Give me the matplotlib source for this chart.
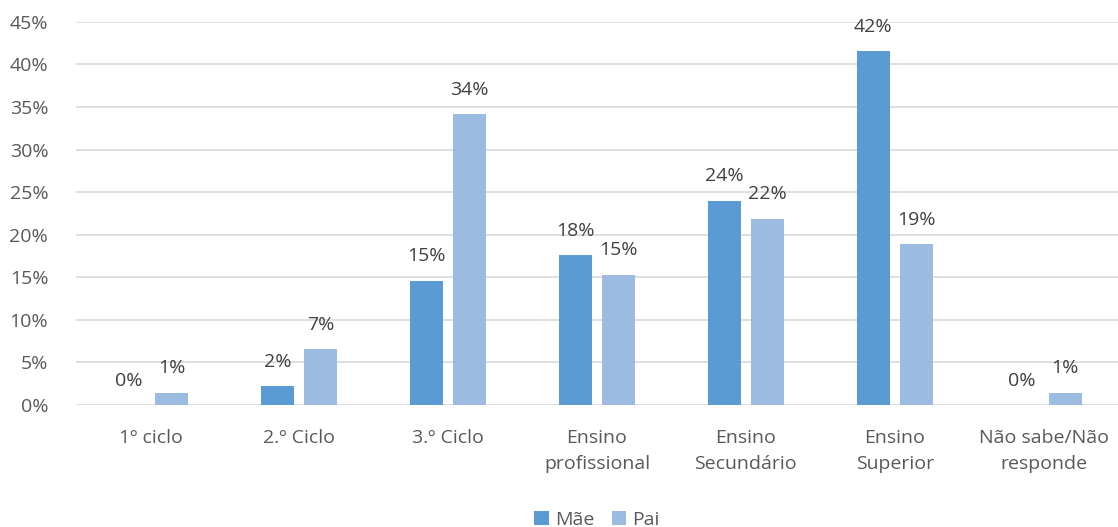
import matplotlib

matplotlib.use("Agg")
import matplotlib.pyplot as plt
import numpy as np

categories = ["1º ciclo", "2.º Ciclo", "3.º Ciclo", "Ensino\nprofissional",
              "Ensino\nSecundário", "Ensino\nSuperior", "Não sabe/Não\nresponde"]
mae = [0.0, 2.2, 14.6, 17.6, 24.0, 41.6, 0.0]
pai = [1.45, 6.6, 34.2, 15.3, 21.9, 18.9, 1.45]
yticks = [0, 5, 10, 15, 20, 25, 30, 35, 40, 45]

MAE_COLOR = "#5B9BD5"
PAI_COLOR = "#9BBBE1"
TEXT = "#595959"

plt.rcParams["font.family"] = ["Open Sans", "DejaVu Sans"]

fig = plt.figure(figsize=(11.18, 5.27), dpi=100)
ax = fig.add_axes([0.068, 0.2315, 0.932, 0.727])

x = np.arange(len(categories))
width = 0.222
offset = 0.1445
bars_m = ax.bar(x - offset, mae, width, color=MAE_COLOR, label="Mãe", zorder=2)
bars_p = ax.bar(x + offset, pai, width, color=PAI_COLOR, label="Pai", zorder=2)

for bars, vals in ((bars_m, mae), (bars_p, pai)):
    for bar, v in zip(bars, vals):
        ax.annotate(f"{round(v):.0f}%", (bar.get_x() + bar.get_width() / 2, v),
                    xytext=(0, 11), textcoords="offset points", ha="center", va="bottom",
                    fontsize=14, color="#404040")

ax.set_xlim(-0.5, len(categories) - 0.5)
ax.set_ylim(0, 45)
ax.set_yticks(yticks)
ax.set_yticklabels([f"{t}%" for t in yticks])
ax.set_xticks(x)
ax.set_xticklabels(categories, linespacing=1.62)
ax.tick_params(axis="both", length=0, labelsize=14, colors=TEXT)
ax.tick_params(axis="y", pad=20)
ax.tick_params(axis="x", pad=17)
ax.grid(axis="y", color="#D9D9D9", linewidth=1.2, zorder=0)
for side in ("top", "right", "left", "bottom"):
    ax.spines[side].set_visible(False)

ax.legend(loc="center", bbox_to_anchor=(0.5, -0.30), ncol=2, frameon=False,
          fontsize=14, handlelength=0.75, handleheight=0.75, handletextpad=0.3,
          columnspacing=0.9, labelcolor=TEXT)

fig.savefig("out.png", dpi=100)
